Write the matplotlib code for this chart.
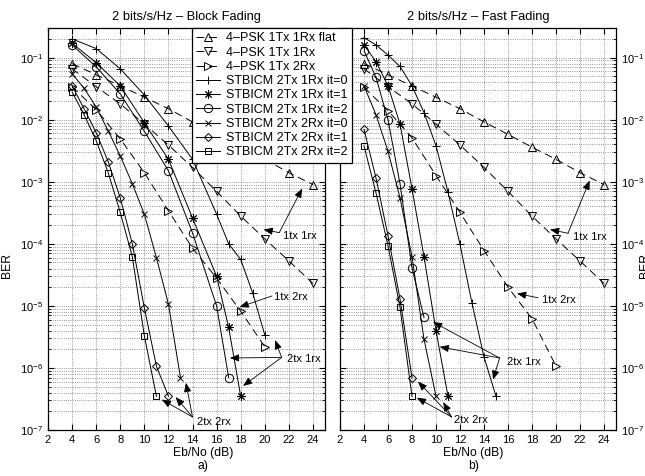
import numpy as np
import matplotlib.pyplot as plt
from matplotlib.lines import Line2D

plt.rcParams['font.family'] = ['Liberation Sans', 'DejaVu Sans']
plt.rcParams['mathtext.fontset'] = 'custom'
plt.rcParams['mathtext.rm'] = 'Liberation Sans'
plt.rcParams['mathtext.it'] = 'Liberation Sans:italic'
plt.rcParams['mathtext.bf'] = 'Liberation Sans:bold'

# ---- data ----
snr_psk = [4, 6, 8, 10, 12, 14, 16, 18, 20, 22, 24]
ber_psk_flat = [0.08, 0.053, 0.035, 0.023, 0.015, 0.0092, 0.0058, 0.0036, 0.0023, 0.0014, 0.0009]
ber_psk_1rx = [0.066, 0.034, 0.018, 0.0085, 0.0039, 0.0017, 7e-4, 2.8e-4, 1.2e-4, 5.3e-5, 2.3e-5]
snr_psk_2rx = [4, 6, 8, 10, 12, 14, 16, 18, 20]
ber_psk_2rx_block = [0.034, 0.0145, 0.0049, 0.0014, 3.4e-4, 8.5e-5, 2.8e-5, 8.2e-6, 2.2e-6]
ber_psk_2rx_fast = [0.033, 0.014, 0.0051, 0.00126, 3.2e-4, 7.8e-5, 2e-5, 6.2e-6, 1.07e-6]

# block fading, STBICM
snr_b_1rx_it0 = [4, 6, 8, 10, 12, 14, 16, 17, 18, 19, 20]
ber_b_1rx_it0 = [0.2, 0.14, 0.066, 0.025, 0.0079, 0.0023, 3e-4, 1e-4, 5.6e-5, 1.6e-5, 3.4e-6]
snr_b_1rx_it1 = [4, 6, 8, 10, 12, 14, 16, 17, 18]
ber_b_1rx_it1 = [0.17, 0.083, 0.035, 0.0089, 0.0023, 2.6e-4, 3e-5, 4.5e-6, 3.5e-7]
snr_b_1rx_it2 = [4, 6, 8, 10, 12, 14, 16, 17]
ber_b_1rx_it2 = [0.16, 0.071, 0.026, 0.0065, 0.0015, 1.5e-4, 1e-5, 7e-7]
snr_b_2rx_it0 = [4, 5, 6, 7, 8, 9, 10, 11, 12, 13]
ber_b_2rx_it0 = [0.055, 0.032, 0.016, 0.0066, 0.0026, 9.3e-4, 3e-4, 6e-5, 1.07e-5, 7e-7]
snr_b_2rx_it1 = [4, 5, 6, 7, 8, 9, 10, 11, 12]
ber_b_2rx_it1 = [0.035, 0.015, 0.0062, 0.0021, 5.5e-4, 1e-4, 9.3e-6, 1.07e-6, 3.5e-7]
snr_b_2rx_it2 = [4, 5, 6, 7, 8, 9, 10, 11]
ber_b_2rx_it2 = [0.028, 0.012, 0.0046, 0.0014, 3.2e-4, 6.2e-5, 3.3e-6, 3.5e-7]

# fast fading, STBICM
snr_f_1rx_it0 = [4, 5, 6, 7, 8, 9, 10, 11, 12, 13, 14, 15]
ber_f_1rx_it0 = [0.21, 0.16, 0.11, 0.072, 0.035, 0.013, 0.0038, 6.8e-4, 9.8e-5, 1.1e-5, 1.5e-6, 3.5e-7]
snr_f_1rx_it1 = [4, 5, 6, 7, 8, 9, 10, 11]
ber_f_1rx_it1 = [0.16, 0.086, 0.035, 0.0085, 7.7e-4, 6.2e-5, 4e-6, 3.5e-7]
snr_f_1rx_it2 = [4, 5, 6, 7, 8, 9]
ber_f_1rx_it2 = [0.13, 0.048, 0.01, 9.3e-4, 4.1e-5, 6.5e-6]
snr_f_2rx_it0 = [4, 5, 6, 7, 8, 9, 10]
ber_f_2rx_it0 = [0.035, 0.012, 0.0031, 5.5e-4, 6.2e-5, 2.9e-6, 3.5e-7]
snr_f_2rx_it1 = [4, 5, 6, 7, 8]
ber_f_2rx_it1 = [0.007, 0.00115, 1.35e-4, 1.3e-5, 6.9e-7]
snr_f_2rx_it2 = [4, 5, 6, 7, 8]
ber_f_2rx_it2 = [0.0038, 6.6e-4, 9.3e-5, 9.5e-6, 3.5e-7]

labels = ['4\u2013PSK 1Tx 1Rx flat', '4\u2013PSK 1Tx 1Rx', '4\u2013PSK 1Tx 2Rx',
          'STBICM 2Tx 1Rx it=0', 'STBICM 2Tx 1Rx it=1', 'STBICM 2Tx 1Rx it=2',
          'STBICM 2Tx 2Rx it=0', 'STBICM 2Tx 2Rx it=1', 'STBICM 2Tx 2Rx it=2']

ASTER = (8, 2, 0)
styles = [('^', (0, (8, 5))), ('v', (0, (8, 5))), ('>', (0, (8, 5))),
          ('+', '-'), (ASTER, '-'), ('o', '-'),
          ('x', '-'), ('D', '-'), ('s', '-')]
msizes = [6, 6, 6, 6, 6, 6, 5, 4.5, 4.5]

block = [(snr_psk, ber_psk_flat), (snr_psk, ber_psk_1rx), (snr_psk_2rx, ber_psk_2rx_block),
         (snr_b_1rx_it0, ber_b_1rx_it0), (snr_b_1rx_it1, ber_b_1rx_it1), (snr_b_1rx_it2, ber_b_1rx_it2),
         (snr_b_2rx_it0, ber_b_2rx_it0), (snr_b_2rx_it1, ber_b_2rx_it1), (snr_b_2rx_it2, ber_b_2rx_it2)]
fast = [(snr_psk, ber_psk_flat), (snr_psk, ber_psk_1rx), (snr_psk_2rx, ber_psk_2rx_fast),
        (snr_f_1rx_it0, ber_f_1rx_it0), (snr_f_1rx_it1, ber_f_1rx_it1), (snr_f_1rx_it2, ber_f_1rx_it2),
        (snr_f_2rx_it0, ber_f_2rx_it0), (snr_f_2rx_it1, ber_f_2rx_it1), (snr_f_2rx_it2, ber_f_2rx_it2)]


def draw_panel(ax, curves):
    for (x, y), (m, ls), ms in zip(curves, styles, msizes):
        ax.semilogy(x, y, color='k', lw=0.7, linestyle=ls, marker=m, ms=ms,
                    mfc='none', mec='k', mew=0.7)
    ax.set_xlim(2, 25)
    ax.set_ylim(1e-7, 0.3)
    ax.set_xticks(np.arange(2, 25, 2))
    ax.grid(True, which='major', color='0.45', linestyle=':', lw=0.6)
    ax.grid(True, which='minor', axis='y', color='0.45', linestyle=':', lw=0.6)
    ax.tick_params(which='both', direction='in', top=True, right=True, left=True, labelsize=8)
    ax.tick_params(which='major', length=4)
    ax.tick_params(which='minor', length=2)
    for s in ax.spines.values():
        s.set_linewidth(0.9)


def arrows(ax, tail, heads):
    for h in heads:
        ax.annotate('', xy=h, xytext=tail,
                    arrowprops=dict(arrowstyle='-|>,head_length=0.55,head_width=0.22',
                                    color='k', lw=0.6, shrinkA=0, shrinkB=0),
                    annotation_clip=False)


fig = plt.figure(figsize=(6.45, 4.76), dpi=100)
ax1 = fig.add_axes([48 / 645, 1 - 430 / 476, 277 / 645, 402 / 476])
ax2 = fig.add_axes([340 / 645, 1 - 430 / 476, 276 / 645, 402 / 476])

draw_panel(ax1, block)
draw_panel(ax2, fast)
ax2.tick_params(labelleft=False, labelright=True)

ax1.set_title('2 bits/s/Hz \u2013 Block Fading', fontsize=9.3, pad=6)
ax2.set_title('2 bits/s/Hz \u2013 Fast Fading', fontsize=9.3, pad=6)

ax1.set_xlabel('Eb/No (dB)\na)', fontsize=8.7, linespacing=1.1)
ax1.xaxis.set_label_coords(0.56, -0.043)
ax1.xaxis.label.set_va('top')
ax2.set_xlabel('Eb/No (dB)\nb)', fontsize=8.7, linespacing=1.1)
ax2.xaxis.set_label_coords(0.484, -0.043)
ax2.xaxis.label.set_va('top')

ax1.set_ylabel('BER', fontsize=8.7)
ax1.yaxis.set_label_coords(-0.128, 0.41)
ax2.set_ylabel('BER', fontsize=8.7, rotation=90)
ax2.yaxis.set_label_position('right')
ax2.yaxis.set_label_coords(1.085, 0.41)

# annotations, block fading
fs = 8
ax1.text(21.5, 10 ** -3.88, '1tx 1rx', fontsize=fs, va='center')
arrows(ax1, (21.2, 10 ** -3.82), [(23.1, 10 ** -3.11), (19.9, 10 ** -3.77)])
ax1.text(20.8, 10 ** -4.86, '1tx 2rx', fontsize=fs, va='center')
arrows(ax1, (20.6, 10 ** -4.84), [(17.9, 10 ** -5.02)])
ax1.text(21.85, 10 ** -5.86, '2tx 1rx', fontsize=fs, va='center')
arrows(ax1, (21.4, 10 ** -5.83), [(20.85, 10 ** -5.55), (17.1, 10 ** -5.84), (18.2, 10 ** -6.29)])
ax1.text(14.4, 10 ** -6.87, '2tx 2rx', fontsize=fs, va='center')
arrows(ax1, (14.0, 10 ** -6.79), [(11.45, 10 ** -6.51), (12.6, 10 ** -6.47), (13.45, 10 ** -6.24)])

# annotations, fast fading
ax2.text(21.4, 10 ** -3.89, '1tx 1rx', fontsize=fs, va='center')
arrows(ax2, (21.0, 10 ** -3.83), [(22.8, 10 ** -2.98), (19.5, 10 ** -3.77)])
ax2.text(18.8, 10 ** -4.9, '1tx 2rx', fontsize=fs, va='center')
arrows(ax2, (18.5, 10 ** -4.87), [(16.75, 10 ** -4.8)])
ax2.text(15.9, 10 ** -5.9, '2tx 1rx', fontsize=fs, va='center')
arrows(ax2, (15.3, 10 ** -5.84), [(9.75, 10 ** -5.26), (10.3, 10 ** -5.66), (14.75, 10 ** -6.19)])
ax2.text(11.5, 10 ** -6.84, '2tx 2rx', fontsize=fs, va='center')
arrows(ax2, (11.3, 10 ** -6.79), [(8.4, 10 ** -6.48), (8.5, 10 ** -6.22), (10.6, 10 ** -6.55)])

handles = [Line2D([0], [0], color='k', lw=0.7, linestyle=ls, marker=m, ms=ms,
                  mfc='none', mec='k', mew=0.7)
           for (m, ls), ms in zip(styles, msizes)]
leg = fig.legend(handles, labels, loc='upper left', bbox_to_anchor=(192 / 645, 1 - 28 / 476),
                 bbox_transform=fig.transFigure, borderaxespad=0, fancybox=False,
                 edgecolor='k', framealpha=1, fontsize=9, handlelength=1.9,
                 handletextpad=0.5, labelspacing=0.18, borderpad=0.35, numpoints=1)
leg.get_frame().set_linewidth(0.9)

fig.savefig('out.png', dpi=100)
